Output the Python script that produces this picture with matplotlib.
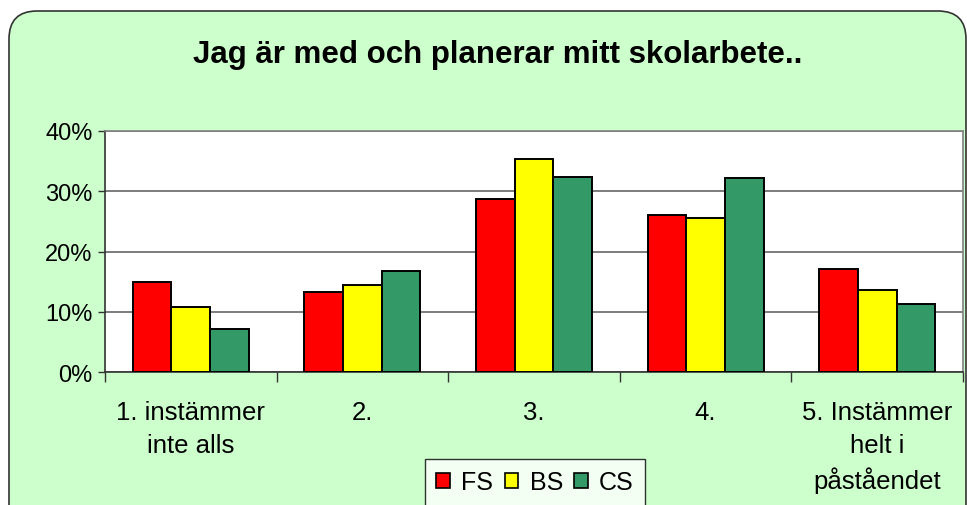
import numpy as np
import matplotlib.pyplot as plt
from matplotlib.patches import FancyBboxPatch, Patch
from matplotlib.transforms import IdentityTransform

plt.rcParams['font.family'] = ['Liberation Sans', 'DejaVu Sans']

categories = ['1. instämmer\ninte alls', '2.', '3.', '4.', '5. Instämmer\nhelt i\npåståendet']
series_names = ['FS', 'BS', 'CS']
fs_values = [14.9, 13.3, 28.8, 26.1, 17.2]
bs_values = [10.9, 14.5, 35.4, 25.5, 13.6]
cs_values = [7.2, 16.8, 32.4, 32.2, 11.3]
colors = ['#FF0000', '#FFFF00', '#339966']
yticks = [0, 10, 20, 30, 40]

W, H = 967, 506
fig = plt.figure(figsize=(W / 100, H / 100), dpi=100)
fig.patch.set_facecolor('white')

# rounded green chart area (pixel coordinates, origin bottom left)
bg = FancyBboxPatch((9, -40), 957, H - 12 + 40,
                    boxstyle='round,pad=0,rounding_size=28',
                    transform=IdentityTransform(), zorder=-5,
                    facecolor='#CCFFCC', edgecolor='#333333', linewidth=1.2)
fig.patches.append(bg)

left, right, top, bottom = 105, 963, 132, 373.3
ax = fig.add_axes([left / W, (H - bottom) / H, (right - left) / W, (bottom - top) / H])
ax.set_facecolor('white')

x = np.arange(len(categories))
bw = 0.225
for i, (vals, c, name) in enumerate(zip([fs_values, bs_values, cs_values], colors, series_names)):
    ax.bar(x + (i - 1) * bw, vals, bw, color=c, edgecolor='black', linewidth=1.4, label=name, zorder=3)

ax.set_xlim(-0.5, len(categories) - 0.5)
ax.set_ylim(0, 40)
ax.set_yticks(yticks)
ax.set_yticklabels([f'{v}%' for v in yticks], fontsize=17)
ax.yaxis.grid(True, color='#666666', linewidth=1.2, zorder=0)
ax.set_axisbelow(True)

ax.set_xticks(x)
ax.set_xticklabels(categories, fontsize=18.5, linespacing=1.45, va='top')
ax.tick_params(axis='x', length=0, pad=20)
ax.set_xticks(np.arange(len(categories) + 1) - 0.5, minor=True)
ax.tick_params(axis='x', which='minor', length=7, color='#333333', width=1)
ax.tick_params(axis='y', length=5, color='#333333', width=1, pad=4)

for s in ['top', 'right']:
    ax.spines[s].set_color('#808080')
    ax.spines[s].set_linewidth(1.2)
for s in ['left', 'bottom']:
    ax.spines[s].set_color('#333333')
    ax.spines[s].set_linewidth(1.2)

fig.text(498 / W, 1 - 55 / H, 'Jag är med och planerar mitt skolarbete..',
         ha='center', va='center', fontsize=22.5, fontweight='bold')

handles = [Patch(facecolor=c, edgecolor='black', linewidth=1.2) for c in colors]
leg = fig.legend(handles, series_names, loc='upper left',
                 bbox_to_anchor=(425 / W, 1 - 460 / H), ncol=3, fontsize=18,
                 frameon=True, fancybox=False, edgecolor='black',
                 handlelength=0.55, handleheight=0.55, handletextpad=0.45,
                 columnspacing=0.45, borderpad=0.45, borderaxespad=0)
leg.get_frame().set_linewidth(1)

fig.savefig('out.png', dpi=100, facecolor=fig.get_facecolor())
